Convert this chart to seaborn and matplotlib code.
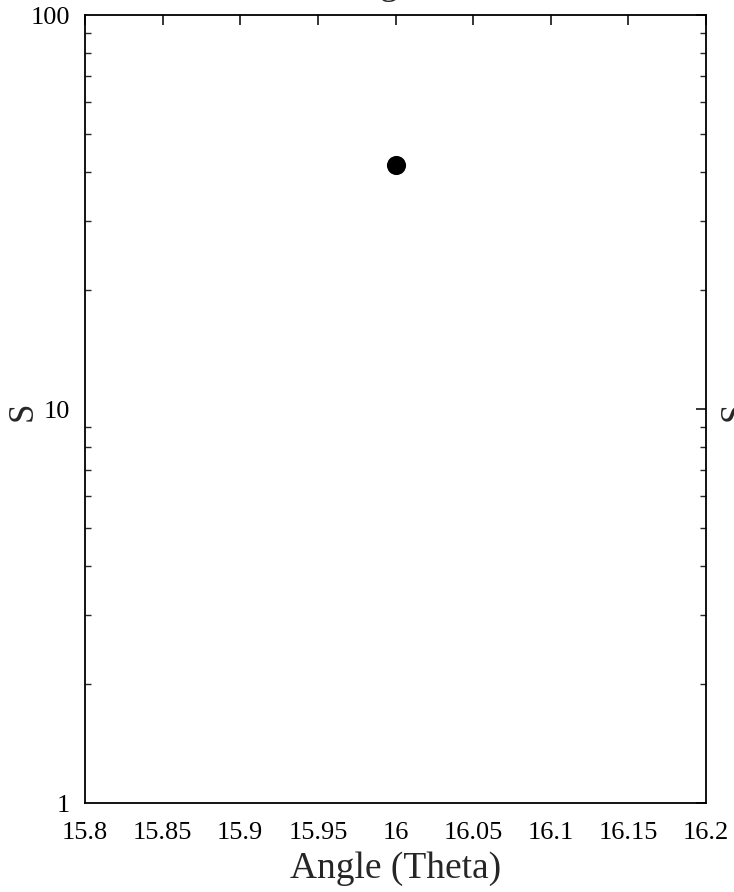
import numpy as np
import matplotlib
matplotlib.use("Agg")
import matplotlib.pyplot as plt
import seaborn as sns
import pandas as pd
from matplotlib.ticker import LogLocator, NullFormatter

# data
angle = [16.0]
s_value = [41.6]
x_ticks = [15.8, 15.85, 15.9, 15.95, 16.0, 16.05, 16.1, 16.15, 16.2]
x_labels = ["15.8", "15.85", "15.9", "15.95", "16", "16.05", "16.1", "16.15", "16.2"]
y_ticks = [1, 10, 100]
y_labels = ["1", "10", "100"]

sns.set_theme(style="white")
plt.rcParams["font.family"] = ["Liberation Serif", "DejaVu Serif"]

df = pd.DataFrame({"Angle": angle, "S": s_value})

fig = plt.figure(figsize=(7.34, 8.92), dpi=100)
ax = fig.add_axes([85 / 734, 1 - 803 / 892, (706 - 85) / 734, (803 - 15) / 892])

sns.scatterplot(x="Angle", y="S", data=df, ax=ax, color="black", s=190,
                edgecolor="black", linewidth=0, zorder=3)

ax.set_yscale("log")
ax.set_xlim(15.8, 16.2)
ax.set_ylim(1, 100)
ax.set_xticks(x_ticks)
ax.set_xticklabels(x_labels)
ax.set_yticks(y_ticks)
ax.set_yticklabels(y_labels)
ax.yaxis.set_minor_locator(LogLocator(base=10, subs=np.arange(2, 10)))
ax.yaxis.set_minor_formatter(NullFormatter())

for side in ["left", "right", "top", "bottom"]:
    ax.spines[side].set_visible(True)
    ax.spines[side].set_color("black")
    ax.spines[side].set_linewidth(1.3)

ax.tick_params(axis="both", which="major", direction="in", length=7, width=1.1,
               top=True, right=True, labelsize=19, colors="black")
ax.tick_params(axis="y", which="major", pad=11)
ax.tick_params(axis="x", which="major", pad=14)
ax.tick_params(axis="y", which="minor", direction="in", length=4, width=1.0,
               left=True, right=True)

ax.set_xlabel("Angle (Theta)", fontsize=27, labelpad=5)
ax.set_ylabel("")
ax.grid(False)

# y label and the partly cut off texts at the edges
fig.text(23 / 734, 1 - 411 / 892, "S", rotation=90, fontsize=25,
         ha="center", va="center")
fig.text(735 / 734, 1 - 411 / 892, "S", rotation=90, fontsize=25,
         ha="center", va="center")
fig.text(381 / 734, 1 + 6 / 892, "Angle", fontsize=26, ha="center", va="baseline")

plt.savefig("out.png", dpi=100)
